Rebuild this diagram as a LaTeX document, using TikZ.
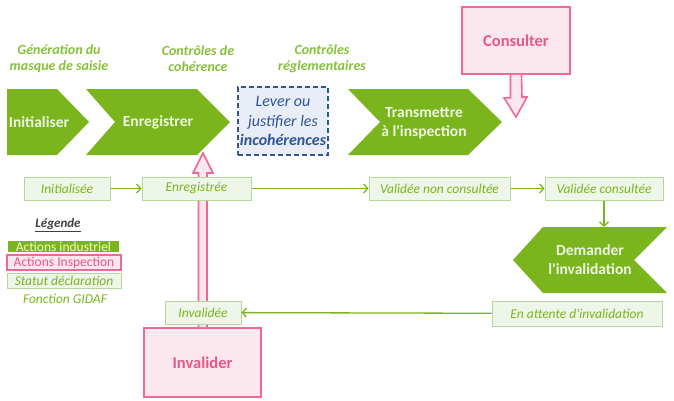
\documentclass[tikz,border=0pt]{standalone}
\usepackage{fontspec}
\setmainfont{Carlito}[Ligatures=TeXOff]
\usetikzlibrary{arrows.meta,calc}
\definecolor{gfill}{HTML}{7AB51D}
\definecolor{gtext}{HTML}{EEF6E2}
\definecolor{glabel}{HTML}{86C03A}
\definecolor{sfill}{HTML}{EEF5E9}
\definecolor{sborder}{HTML}{B3D89A}
\definecolor{stext}{HTML}{7AB51D}
\definecolor{pborder}{HTML}{EE6A93}
\definecolor{pfill}{HTML}{FDE7EF}
\definecolor{ptext}{HTML}{E8578A}
\definecolor{bborder}{HTML}{2F5597}
\definecolor{bfill}{HTML}{E9EDF7}
\definecolor{btext}{HTML}{2F5597}
\definecolor{dark}{HTML}{404040}
\tikzset{
  status/.style={draw=sborder, fill=sfill, line width=1pt, text=stext,
    font=\itshape\fontsize{13.5}{15}\selectfont, inner sep=0pt, minimum height=23pt},
  chevshape/.style={fill=gfill, draw=none},
  chevtext/.style={font=\bfseries\fontsize{15.5}{19}\selectfont, text=gtext, align=center, inner sep=0pt},
  toplabel/.style={font=\bfseries\itshape\fontsize{14}{16}\selectfont, text=glabel, align=center},
  flow/.style={draw=gfill, line width=1.3pt, -{Straight Barb[length=4pt,width=9pt,line width=1.3pt]}},
  pinkbox/.style={draw=pborder, fill=pfill, line width=1.6pt, text=ptext,
    font=\bfseries\fontsize{16.5}{18}\selectfont, inner sep=0pt},
  pinkarrow/.style={draw=pborder, fill=pfill, line width=1.6pt, line join=miter},
  legfont/.style={font=\fontsize{13.5}{15}\selectfont},
}
\begin{document}
\begin{tikzpicture}[x=1pt,y=-1pt]
\useasboundingbox (0,0) rectangle (674,400);

% top labels
\node[toplabel] (l1) at (59,59) {Génération du\\masque de saisie};
\node[toplabel] (l2) at (198,59) {Contrôles de\\cohérence};
\node[toplabel] (l3) at (322,59) {Contrôles\\réglementaires};

% chevrons
\fill[chevshape] (7,89) -- (57,89) -- (89,122) -- (57,155) -- (7,155) -- cycle;
\node[chevtext] (cini) at (39,122) {Initialiser};
\fill[chevshape] (86,89) -- (197,89) -- (230,122) -- (197,155) -- (86,155) -- (115,122) -- cycle;
\node[chevtext] (cenr) at (158,122) {Enregistrer};
\fill[chevshape] (348,89) -- (468,89) -- (502,122) -- (468,155) -- (348,155) -- (380,122) -- cycle;
\node[chevtext] (ctra) at (424,123) {Transmettre\\à l'inspection};
\fill[chevshape] (513,260) -- (543,227) -- (667,227) -- (634,260) -- (667,293) -- (543,293) -- cycle;
\node[chevtext, minimum height=66pt] (cdem) at (590,260) {Demander\\l'invalidation};

% dashed box
\node[draw=bborder, fill=bfill, dashed, line width=1.3pt, dash pattern=on 5pt off 3pt,
  minimum width=90pt, minimum height=68pt, inner sep=0pt, align=center, text=btext,
  font=\itshape\fontsize{16}{19.5}\selectfont] (lev) at (283,121)
  {Lever ou\\justifier les\\\textbf{incohérences}};

% Consulter
\node[pinkbox, minimum width=108pt, minimum height=67pt] (cons) at (516,40.5) {Consulter};
\draw[pinkarrow] ($(cons.south)+(-5.5,0)$) -- ++(0,23) -- ++(-6.5,0) -- (516,117)
  -- (527,97) -- ++(-5,0) -- ($(cons.south)+(5.5,0)$);

% Invalider
\node[pinkbox, minimum width=117pt, minimum height=69pt] (inval) at (202.5,362.5) {Invalider};
\draw[pinkarrow] ($(inval.north)+(-4,0)$) -- (198.5,173) -- (193,173) -- (203,153)
  -- (213,173) -- (207,173) -- ($(inval.north)+(4.5,0)$);

% statuses
\node[status, minimum width=86pt] (ini) at (67,188.5) {Initialisée};
\node[status, minimum width=109pt] (enr) at (196.5,188.5) {Enregistrée};
\node[status, minimum width=141pt] (vnc) at (439.5,188.5) {Validée non consultée};
\node[status, minimum width=118pt] (vc) at (604,188.5) {Validée consultée};
\node[status, minimum width=170pt, minimum height=25pt] (att) at (577,313.5) {En attente d'invalidation};
\node[status, minimum width=76pt] (inv) at (203,312.5) {Invalidée};

\draw[flow] (ini) -- (enr);
\draw[flow] (enr) -- (vnc);
\draw[flow] (vnc) -- (vc);
\draw[flow] (vc.south) -- (vc.south |- cdem.north);
\draw[flow] (att) -- (inv);

% legend
\node[font=\bfseries\itshape\fontsize{13}{15}\selectfont, text=dark] (leg) at (58,225) {\underline{Légende}};
\node[legfont, fill=gfill, text=gtext, minimum width=111pt, minimum height=11pt, inner sep=0pt] (lg1) at (63.5,246.5) {Actions industriel};
\node[legfont, draw=pborder, fill=pfill, line width=1.3pt, text=ptext, minimum width=114pt, minimum height=15pt, inner sep=0pt] (lg2) at (64,262.5) {Actions Inspection};
\node[status, font=\itshape\fontsize{13.5}{15}\selectfont, minimum width=114pt, minimum height=15pt] (lg3) at (64,280.5) {Statut déclaration};
\node[text=stext, font=\itshape\fontsize{13.5}{15}\selectfont] (lg4) at (65,299) {Fonction GIDAF};
\end{tikzpicture}
\end{document}
